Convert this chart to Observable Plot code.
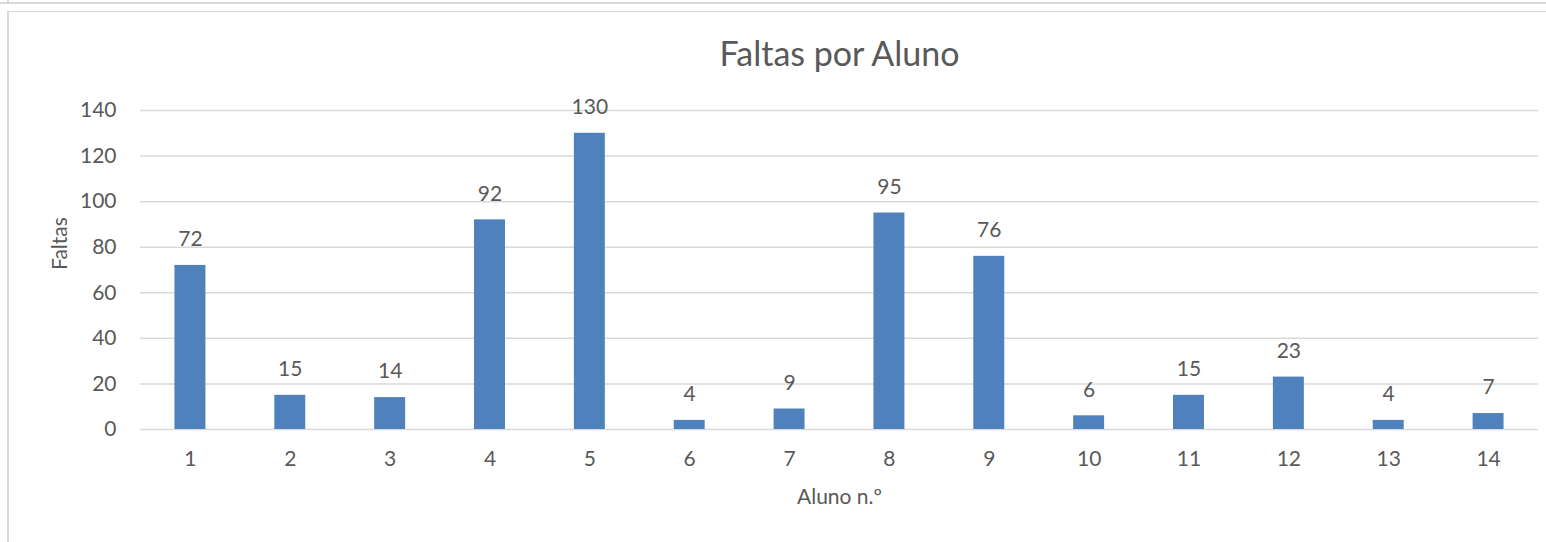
<!DOCTYPE html>
<html>
<head>
<meta charset="utf-8">
<script src="https://cdn.jsdelivr.net/npm/d3@7"></script>
<script src="https://cdn.jsdelivr.net/npm/@observablehq/plot@0.6"></script>
<style>
  html, body { margin: 0; padding: 0; background: #fff; }
  #wrap { position: relative; width: 1546px; height: 542px; overflow: hidden; }
  #wrap svg { position: absolute; left: 0; top: 0; }
  .line { position: absolute; background: #d9d9d9; }
</style>
</head>
<body>
<div id="wrap">
  <div class="line" style="left:0;top:2px;width:1546px;height:2px;"></div>
  <div class="line" style="left:7px;top:0;width:2px;height:4px;"></div>
  <div class="line" style="left:7px;top:11px;width:1546px;height:1px;"></div>
  <div class="line" style="left:7px;top:11px;width:2px;height:531px;"></div>
</div>
<script>
const alunos = ["1","2","3","4","5","6","7","8","9","10","11","12","13","14"];
const faltas = [72, 15, 14, 92, 130, 4, 9, 95, 76, 6, 15, 23, 4, 7];
const yTicks = [0, 20, 40, 60, 80, 100, 120, 140];
const title = "Faltas por Aluno";
const xLabel = "Aluno n.º";
const yLabel = "Faltas";

const data = alunos.map((a, i) => ({aluno: a, faltas: faltas[i]}));
const font = "Lato, 'Open Sans', sans-serif";
const gray = "#595959";

const chart = Plot.plot({
  width: 1546,
  height: 542,
  marginLeft: 140,
  marginRight: 8,
  marginTop: 110,
  marginBottom: 113,
  style: {fontFamily: font, fontSize: "21px", color: gray, background: "transparent"},
  x: {domain: alunos, paddingInner: 0.69, paddingOuter: 0.345, round: false, label: null},
  y: {domain: [0, 140], label: null},
  marks: [
    Plot.ruleY(yTicks, {stroke: "#d9d9d9", strokeWidth: 1.5}),
    Plot.axisY({ticks: yTicks, tickSize: 0, tickPadding: 24, fontSize: 21, fill: gray, label: null}),
    Plot.axisX({tickSize: 0, tickPadding: 22, fontSize: 21, fill: gray, label: null}),
    Plot.barY(data, {x: "aluno", y: "faltas", fill: "#4F81BD"}),
    Plot.text(data, {x: "aluno", y: "faltas", text: d => String(d.faltas), dy: -26, fontSize: 21, fill: gray}),
    Plot.text([title], {frameAnchor: "top", lineAnchor: "middle", dy: -55, fontSize: 34, fill: gray}),
    Plot.text([xLabel], {frameAnchor: "bottom", lineAnchor: "middle", dy: 68, fontSize: 21, fill: gray}),
    Plot.text([yLabel], {frameAnchor: "left", dx: -80, rotate: -90, fontSize: 21, fill: gray})
  ]
});
document.getElementById("wrap").appendChild(chart);
</script>
</body>
</html>
